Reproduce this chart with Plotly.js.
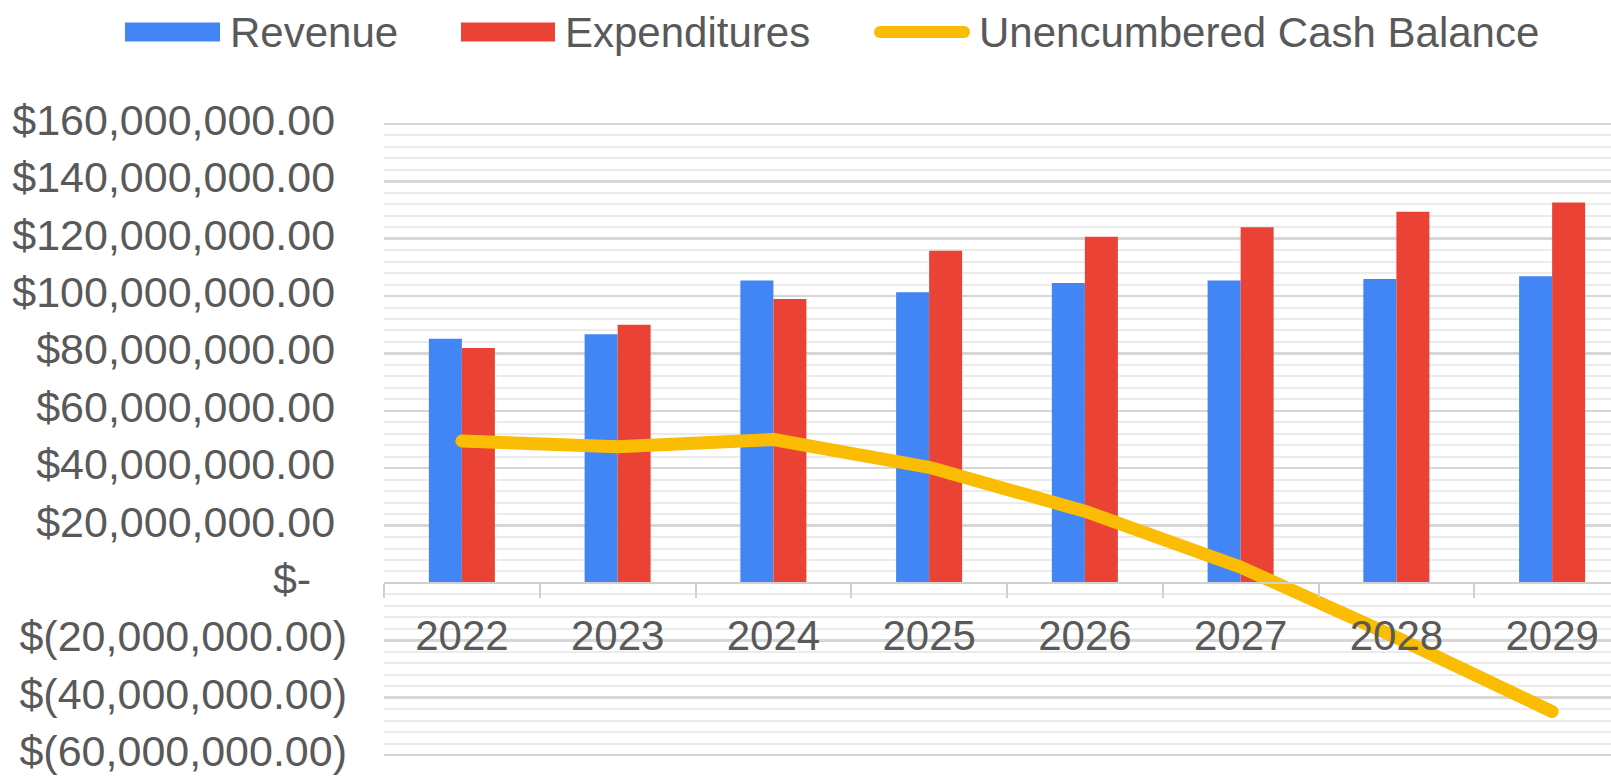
<!DOCTYPE html>
<html>
<head>
<meta charset="utf-8">
<script src="https://cdn.plot.ly/plotly-3.0.1.min.js"></script>
<style>
  html, body { margin: 0; padding: 0; overflow: hidden; background: #ffffff; }
  #chart { width: 1650px; height: 777px; }
  #chart .scatterlayer path.js-line { stroke-linecap: round; stroke-linejoin: round; }
</style>
</head>
<body>
<div id="chart"></div>
<script>
// ---- data ----
const years = ['2022', '2023', '2024', '2025', '2026', '2027', '2028', '2029'];
const revenue = [85.1e6, 86.7e6, 105.4e6, 101.3e6, 104.5e6, 105.4e6, 105.9e6, 106.9e6];
const expenditures = [81.9e6, 90.0e6, 99.0e6, 115.8e6, 120.7e6, 124.0e6, 129.4e6, 132.6e6];
const cashBalance = [49.5e6, 47.5e6, 50.0e6, 40.3e6, 25.0e6, 5.5e6, -19.0e6, -44.8e6];
const seriesNames = ['Revenue', 'Expenditures', 'Unencumbered Cash Balance'];
const yTickValues = [-60e6, -40e6, -20e6, 0, 20e6, 40e6, 60e6, 80e6, 100e6, 120e6, 140e6, 160e6];
const yTickLabels = ['$(60,000,000.00)', '$(40,000,000.00)', '$(20,000,000.00)', '$-',
  '$20,000,000.00', '$40,000,000.00', '$60,000,000.00', '$80,000,000.00',
  '$100,000,000.00', '$120,000,000.00', '$140,000,000.00', '$160,000,000.00'];

const BLUE = '#4285F4', RED = '#EA4335', GOLD = '#FBBC04', TXT = '#595959';
const FONT = '"Liberation Sans", Arial, sans-serif';

// accounting-style alignment: leave room for the closing parenthesis
const NB = '\u00a0';
const yTickText = yTickLabels.map(s => s.endsWith(')') ? s : (s === '$-' ? s + NB + NB + NB : s + NB));

const traces = [
  { type: 'bar', name: seriesNames[0], x: years, y: revenue, marker: { color: BLUE }, showlegend: false, hoverinfo: 'skip' },
  { type: 'bar', name: seriesNames[1], x: years, y: expenditures, marker: { color: RED }, showlegend: false, hoverinfo: 'skip' },
  { type: 'scatter', mode: 'lines', name: seriesNames[2], x: years, y: cashBalance,
    line: { color: GOLD, width: 13 }, showlegend: false, hoverinfo: 'skip' }
];

// axis range padded slightly so the end gridlines/labels (-60M, 160M) are drawn
const yMin = -61e6, yMax = 161e6;
const plotLeft = 384, plotTop = 121, plotBottomMargin = 19;

// custom legend (wide swatches as in the reference), positioned in pixels relative to plot top-left
const legendItems = [
  { name: seriesNames[0], kind: 'rect', color: BLUE, sx0: 125, sx1: 220, tx: 228 },
  { name: seriesNames[1], kind: 'rect', color: RED, sx0: 461, sx1: 555, tx: 563 },
  { name: seriesNames[2], kind: 'line', color: GOLD, sx0: 880, sx1: 964, tx: 977 }
];
const legendY = 32;
const shapes = [], annotations = [];
legendItems.forEach(it => {
  if (it.kind === 'rect') {
    shapes.push({ type: 'rect', xref: 'paper', yref: 'paper', xsizemode: 'pixel', ysizemode: 'pixel',
      xanchor: 0, yanchor: 1, x0: it.sx0 - plotLeft, x1: it.sx1 - plotLeft,
      y0: plotTop - (legendY + 9.5), y1: plotTop - (legendY - 9.5),
      fillcolor: it.color, line: { width: 0 } });
  } else {
    shapes.push({ type: 'line', xref: 'paper', yref: 'paper', xsizemode: 'pixel', ysizemode: 'pixel',
      xanchor: 0, yanchor: 1, x0: it.sx0 - plotLeft, x1: it.sx1 - plotLeft,
      y0: plotTop - legendY, y1: plotTop - legendY, line: { color: it.color, width: 12 } });
    [it.sx0, it.sx1].forEach(cx => shapes.push({ type: 'circle', xref: 'paper', yref: 'paper',
      xsizemode: 'pixel', ysizemode: 'pixel', xanchor: 0, yanchor: 1,
      x0: cx - 6 - plotLeft, x1: cx + 6 - plotLeft, y0: plotTop - legendY - 6, y1: plotTop - legendY + 6,
      fillcolor: it.color, line: { width: 0 } }));
  }
  annotations.push({ xref: 'paper', yref: 'paper', x: 0, y: 1, xshift: it.tx - plotLeft, yshift: plotTop - legendY,
    xanchor: 'left', yanchor: 'middle', showarrow: false, text: it.name,
    font: { family: FONT, size: 42, color: TXT } });
});

const layout = {
  width: 1650, height: 777,
  margin: { l: plotLeft, r: 20, t: plotTop, b: plotBottomMargin },
  paper_bgcolor: '#ffffff', plot_bgcolor: '#ffffff',
  barmode: 'group', bargap: 0.576, bargroupgap: 0,
  font: { family: FONT, size: 42, color: TXT },
  showlegend: false,
  xaxis: {
    type: 'category', anchor: 'free', position: (0 - yMin) / (yMax - yMin),
    showline: true, linecolor: '#d0d0d0', linewidth: 2,
    ticks: 'outside', tickson: 'boundaries', ticklen: 14, tickwidth: 2, tickcolor: '#d0d0d0',
    showgrid: false, zeroline: false,
    tickfont: { family: FONT, size: 42, color: TXT }, ticklabelstandoff: 16
  },
  yaxis: {
    range: [yMin, yMax], autorange: false,
    tickvals: yTickValues, ticktext: yTickText,
    showgrid: true, gridcolor: '#d6d6d6', gridwidth: 2.5,
    minor: { dtick: 4e6, tick0: 0, showgrid: true, gridcolor: '#ebebeb', gridwidth: 2 },
    zeroline: false, showline: false, ticks: '',
    ticklabeloverflow: 'allow', ticklabelshift: -4,
    tickfont: { family: FONT, size: 43, color: TXT }, ticklabelstandoff: 36
  },
  shapes: shapes,
  annotations: annotations
};

Plotly.newPlot('chart', traces, layout, { staticPlot: true, displayModeBar: false });
</script>
</body>
</html>
